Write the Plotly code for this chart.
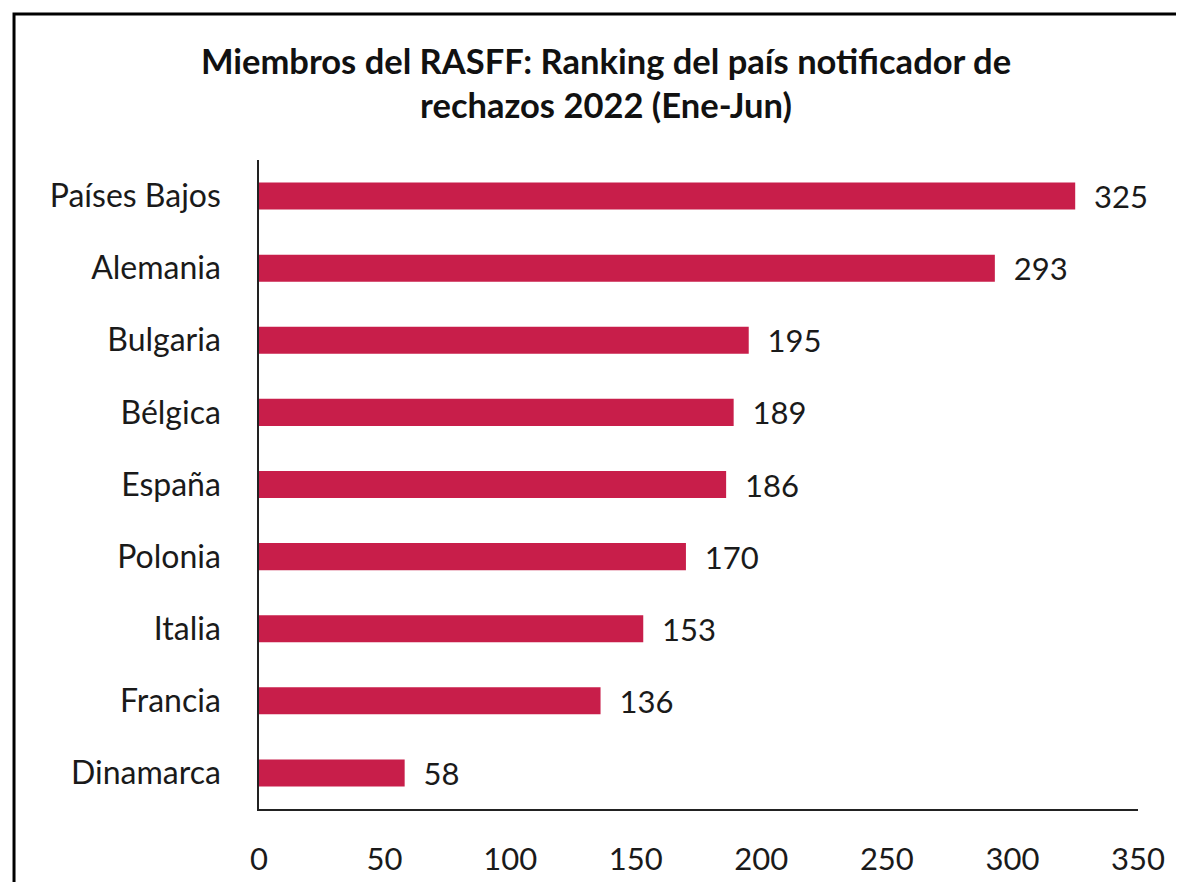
import plotly.graph_objects as go

countries = ["Países Bajos", "Alemania", "Bulgaria", "Bélgica", "España",
             "Polonia", "Italia", "Francia", "Dinamarca"]
values = [325, 293, 195, 189, 186, 170, 153, 136, 58]
x_ticks = [0, 50, 100, 150, 200, 250, 300, 350]

font_family = "Lato, 'Open Sans', sans-serif"
label_size = 31

fig = go.Figure(go.Bar(
    y=countries,
    x=values,
    orientation="h",
    marker=dict(color="#C81E4A", line=dict(width=0)),
    text=[f"  {v}" for v in values],
    textposition="outside",
    constraintext="none",
    textfont=dict(family=font_family, size=label_size, color="#1a1a1a"),
    cliponaxis=False,
))

fig.update_layout(
    width=1176, height=874,
    paper_bgcolor="white", plot_bgcolor="white",
    margin=dict(l=251, r=46, t=152, b=73, autoexpand=False),
    bargap=0.625,
    showlegend=False,
    title=dict(
        text="Miembros del RASFF: Ranking del país notificador de<br>rechazos 2022 (Ene-Jun)",
        x=0.5085, xanchor="center", y=0.925, yanchor="middle",
        font=dict(family=font_family, size=34.5, color="#111111", weight="bold"),
    ),
    font=dict(family=font_family, size=label_size, color="#1a1a1a"),
    shapes=[dict(type="rect", xref="paper", yref="paper",
                 x0=-0.2787, x1=1.2, y0=-0.5, y1=1.225,
                 line=dict(color="black", width=3), layer="above")],
)
fig.update_xaxes(
    range=[0, 350], tickvals=x_ticks, showgrid=False, zeroline=False,
    showline=True, linecolor="#222222", linewidth=1.5,
    ticks="", ticklabelstandoff=22,
    tickfont=dict(family=font_family, size=label_size, color="#1a1a1a"),
)
fig.update_yaxes(
    autorange="reversed", showgrid=False, zeroline=False,
    showline=True, linecolor="#222222", linewidth=1.5,
    ticks="", ticklabelstandoff=30,
    tickfont=dict(family=font_family, size=32, color="#1a1a1a"),
)

fig.write_html("out.html")
